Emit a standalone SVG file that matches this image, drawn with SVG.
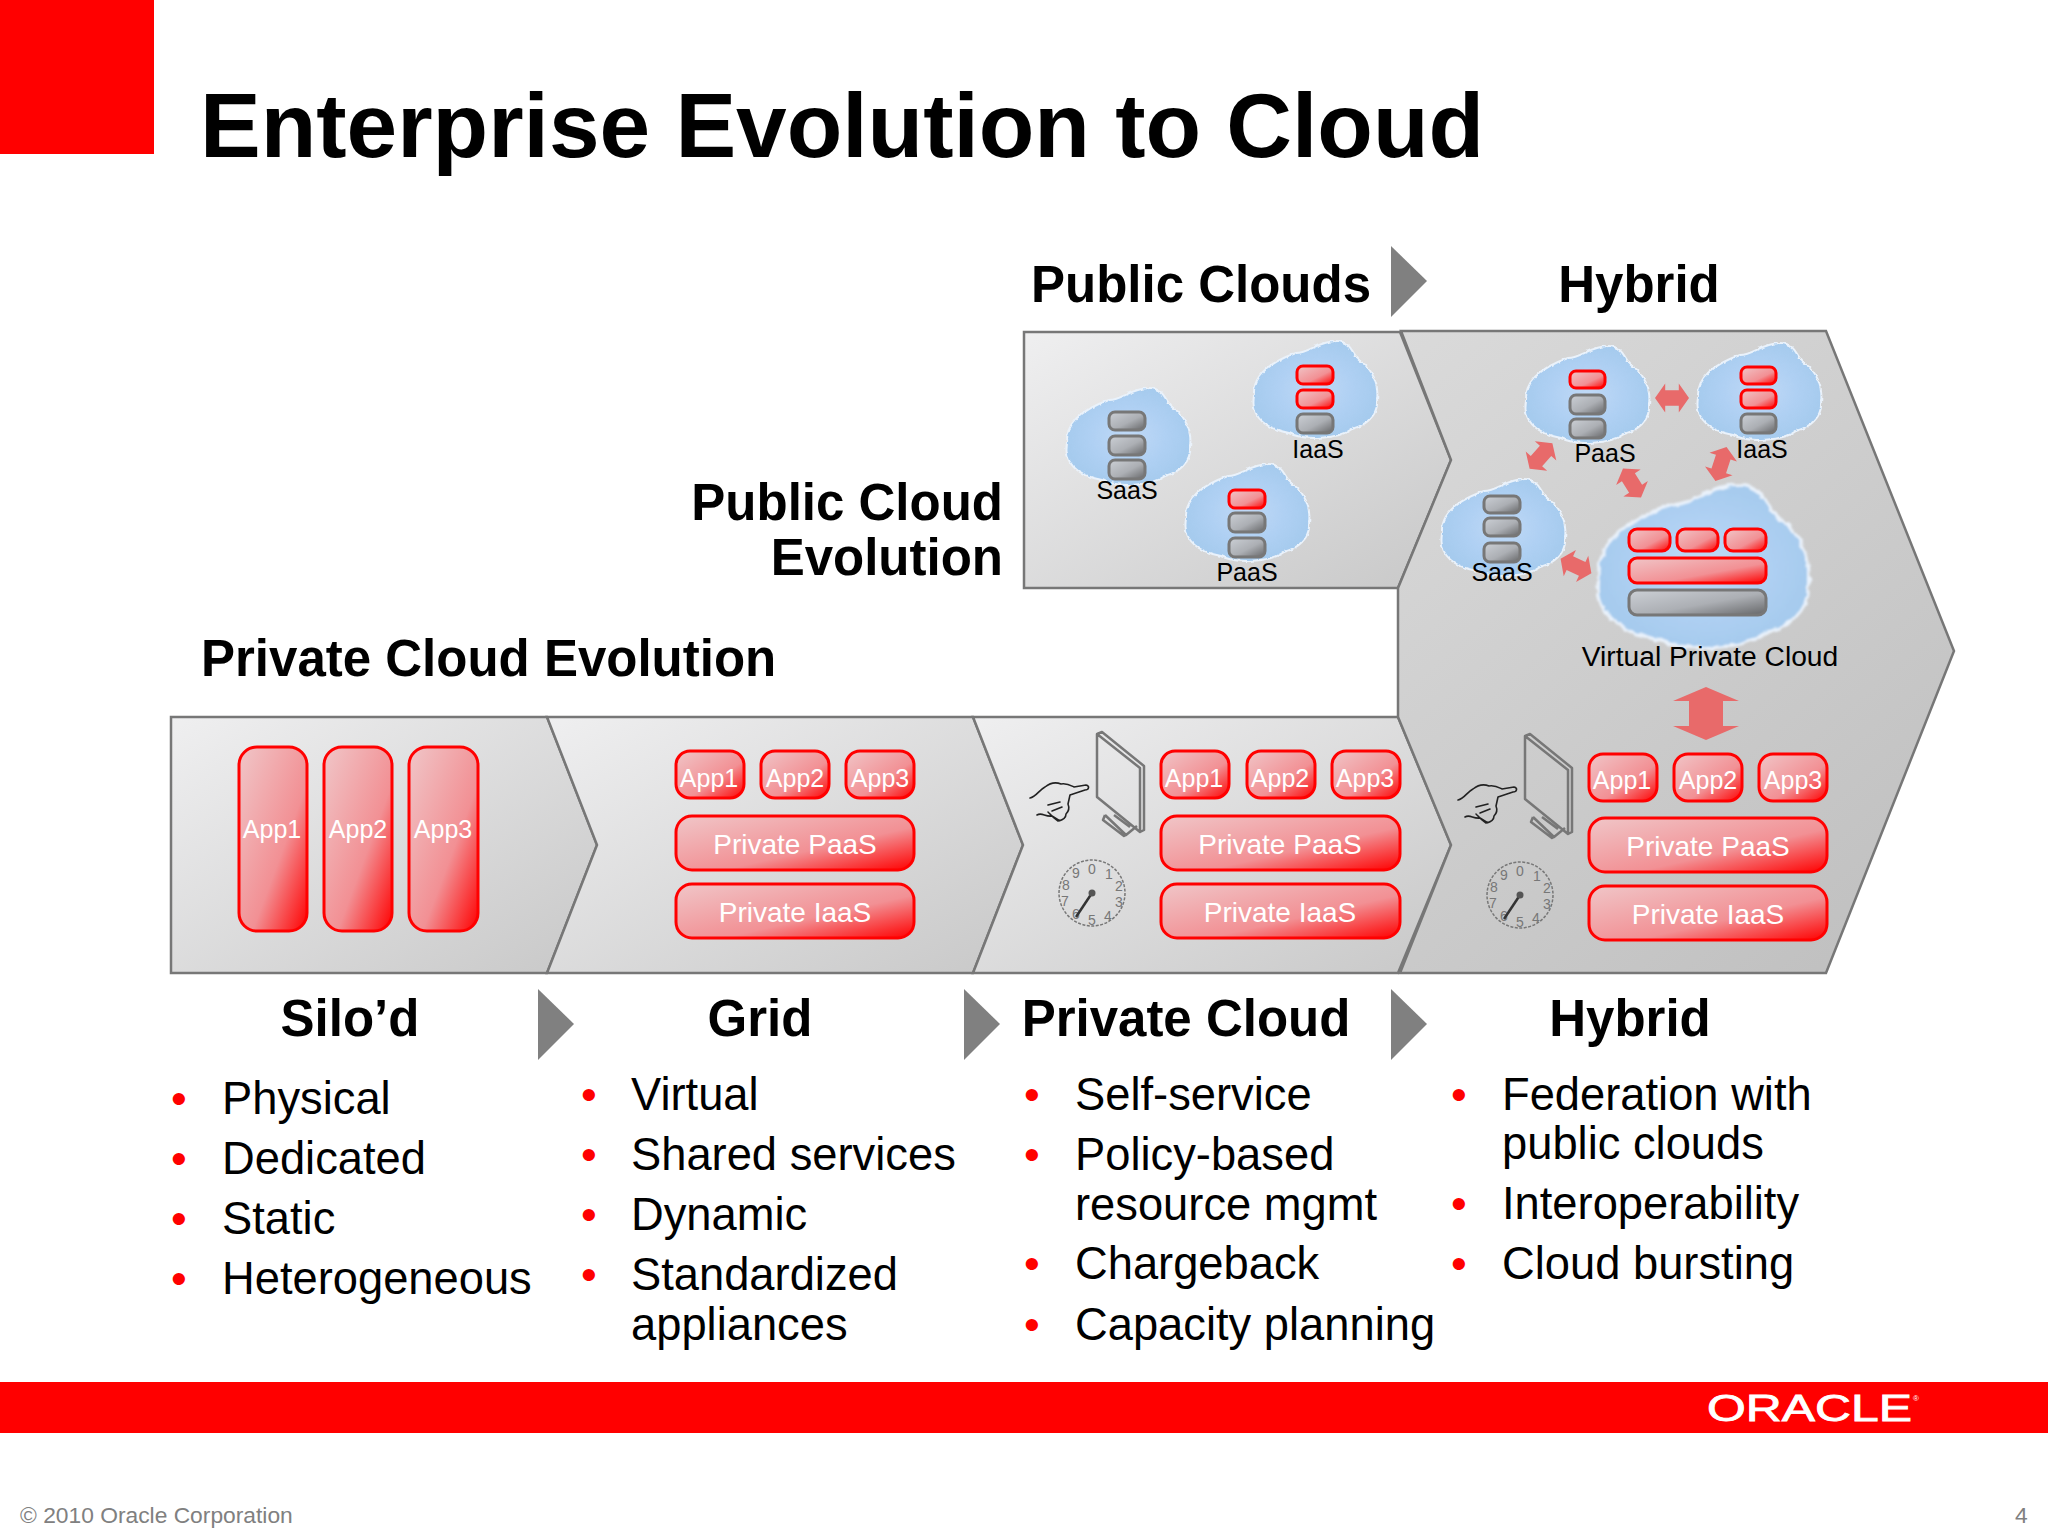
<svg xmlns="http://www.w3.org/2000/svg" width="2048" height="1536" viewBox="0 0 2048 1536">
<style>
text{font-family:"Liberation Sans",Arial,sans-serif;fill:#000}
.h{font-weight:bold;font-size:51px}
.b{font-size:45.3px}
.d{font-size:45px;fill:#f00}
.m{text-anchor:middle}
.w{fill:#fff;text-anchor:middle;font-size:25px}
.p{fill:#fff;text-anchor:middle;font-size:28px}
.l{text-anchor:middle;font-size:25px}
.band{stroke:#777;stroke-width:2.5}
.r{fill:url(#red);stroke:#f00;stroke-width:3}
.g{fill:url(#gray);stroke:#777;stroke-width:3}
.tri{fill:#808080}
.dbl{fill:#e86a6a}
.ink{fill:none;stroke:#222;stroke-width:1.6;stroke-linecap:round;stroke-linejoin:round}
.mon{fill:none;stroke:#777;stroke-width:2.5;stroke-linejoin:round}
.dg{font-size:14px;fill:#777;text-anchor:middle}
</style>
<defs>
<linearGradient id="band" x1="0" y1="0" x2="1" y2="1"><stop offset="0" stop-color="#efeff0"/><stop offset="1" stop-color="#c8c8c8"/></linearGradient>
<linearGradient id="band2" gradientUnits="userSpaceOnUse" x1="1400" y1="331" x2="1954" y2="973"><stop offset="0" stop-color="#dadada"/><stop offset="1" stop-color="#bebebe"/></linearGradient>
<linearGradient id="red" x1="0" y1="0" x2="1" y2="1"><stop offset="0" stop-color="#f0c6c8"/><stop offset=".6" stop-color="#f29094"/><stop offset="1" stop-color="#ff0000"/></linearGradient>
<linearGradient id="gray" x1="0" y1="0" x2="1" y2="1"><stop offset="0" stop-color="#ccd0d6"/><stop offset=".55" stop-color="#acafb4"/><stop offset="1" stop-color="#656668"/></linearGradient>
<radialGradient id="blue"><stop offset="0" stop-color="#c0d9f6"/><stop offset=".6" stop-color="#afd0f3"/><stop offset="1" stop-color="#a6cbee"/></radialGradient>
<filter id="rough" x="-15%" y="-15%" width="130%" height="130%"><feTurbulence type="fractalNoise" baseFrequency=".2" numOctaves="2" seed="4"/><feDisplacementMap in="SourceGraphic" scale="3.5" xChannelSelector="R" yChannelSelector="G"/><feGaussianBlur stdDeviation=".5"/></filter>
<path id="cl" d="M-60,5C-62,-20-35,-32-18,-38C-5,-38 5,-50 22,-50C38,-50 38,-36 46,-30C59,-22 65,-5 63,8C65,25 50,35 38,38C25,48-10,50-25,42C-45,38-64,28-60,5Z" fill="url(#blue)" stroke="#eaf2fb" stroke-width="2" filter="url(#rough)"/>
<path id="da" class="dbl" d="M-20,0L-8,-17L-8,-9L8,-9L8,-17L20,0L8,17L8,9L-8,9L-8,17Z"/>
<g id="tools">
<path class="ink" d="M1030,798C1036,797 1039,790 1045,787C1050,783 1056,782 1061,784C1067,783 1070,785 1074,787L1086,785C1090,786 1089,790 1085,790L1070,795L1068,804C1070,809 1068,812 1066,814C1066,818 1063,820 1058,821C1053,818 1050,814 1048,812M1048,805L1060,802M1062,807L1052,811M1037,815C1042,812 1045,817 1052,816L1060,821"/>
<path class="mon" d="M1097,734L1140,768L1140,832L1097,797ZM1097,734L1102,732L1144,766L1144,830L1140,832M1105,815L1126,835L1137,826M1105,815L1103,820L1124,836L1126,835M1114,815L1130,827"/>
<circle cx="1092" cy="893" r="33" fill="none" stroke="#777" stroke-width="1.5" stroke-dasharray="3 1.5"/>
<text class="dg" x="1092" y="874">0</text><text class="dg" x="1109" y="879">1</text><text class="dg" x="1119" y="891">2</text><text class="dg" x="1119" y="907">3</text><text class="dg" x="1108" y="921">4</text><text class="dg" x="1092" y="925">5</text><text class="dg" x="1076" y="919">6</text><text class="dg" x="1065" y="906">7</text><text class="dg" x="1066" y="890">8</text><text class="dg" x="1076" y="878">9</text>
<path d="M1092,893L1076,917" stroke="#333" stroke-width="2.5" fill="none"/><circle cx="1092" cy="893" r="3.5" fill="#555"/>
</g>
</defs>
<rect width="2048" height="1536" fill="#fff"/>
<rect id="corner" width="154" height="154" fill="#f00"/>
<text id="title" x="200" y="157" style="font-size:91px;font-weight:bold">Enterprise Evolution to Cloud</text>

<g id="band-public"><path class="band" fill="url(#band)" d="M1024,332L1400,332L1451,460L1398,588L1024,588Z"/></g>
<g id="band-silo"><path class="band" fill="url(#band)" d="M171,717L547,717L597,845L547,973L171,973Z"/></g>
<g id="band-grid"><path class="band" fill="url(#band)" d="M547,717L973,717L1023,845L973,973L547,973L597,845Z"/></g>
<g id="band-private"><path class="band" fill="url(#band)" d="M973,717L1398,717L1451,845L1398,973L973,973L1023,845Z"/></g>
<g id="band-hybrid"><path class="band" fill="url(#band2)" d="M1401,331L1826,331L1954,651L1826,973L1400,973L1451,845L1398,717L1398,588L1451,460Z"/></g>

<g id="tri-1"><polygon class="tri" points="1391,246 1427,281 1391,317"/></g>
<g id="tri-2"><polygon class="tri" points="538,989 574,1024 538,1060"/></g>
<g id="tri-3"><polygon class="tri" points="964,989 1000,1024 964,1060"/></g>
<g id="tri-4"><polygon class="tri" points="1391,989 1427,1024 1391,1060"/></g>

<text class="h" x="1031" y="302">Public Clouds</text>
<text class="h m" x="1639" y="302">Hybrid</text>
<text class="h" x="1003" y="520" style="text-anchor:end">Public Cloud</text>
<text class="h" x="1003" y="575" style="text-anchor:end">Evolution</text>
<text class="h" x="201" y="676">Private Cloud Evolution</text>
<text class="h m" x="350" y="1036">Silo’d</text>
<text class="h m" x="760" y="1036">Grid</text>
<text class="h m" x="1186" y="1036">Private Cloud</text>
<text class="h m" x="1630" y="1036">Hybrid</text>

<g id="cloud-pub-saas"><use href="#cl" x="1127" y="438"/>
<rect class="g" x="1109" y="412" width="36" height="18" rx="6"/><rect class="g" x="1109" y="436" width="36" height="19" rx="6"/><rect class="g" x="1109" y="460" width="36" height="19" rx="6"/>
<text class="l" x="1127" y="499">SaaS</text></g>
<g id="cloud-pub-iaas"><use href="#cl" x="1314" y="391"/>
<rect class="r" x="1297" y="366" width="36" height="18" rx="6"/><rect class="r" x="1297" y="390" width="36" height="18" rx="6"/><rect class="g" x="1297" y="414" width="36" height="19" rx="6"/>
<text class="l" x="1318" y="458">IaaS</text></g>
<g id="cloud-pub-paas"><use href="#cl" x="1246" y="514"/>
<rect class="r" x="1229" y="490" width="36" height="18" rx="6"/><rect class="g" x="1229" y="513" width="36" height="19" rx="6"/><rect class="g" x="1229" y="538" width="36" height="19" rx="6"/>
<text class="l" x="1247" y="581">PaaS</text></g>

<g id="cloud-hyb-paas"><use href="#cl" x="1586" y="396"/>
<rect class="r" x="1570" y="371" width="35" height="17" rx="6"/><rect class="g" x="1570" y="395" width="35" height="19" rx="6"/><rect class="g" x="1570" y="419" width="35" height="19" rx="6"/>
<text class="l" x="1605" y="462">PaaS</text></g>
<g id="cloud-hyb-iaas"><use href="#cl" x="1758" y="393"/>
<rect class="r" x="1741" y="367" width="35" height="17" rx="6"/><rect class="r" x="1741" y="390" width="35" height="18" rx="6"/><rect class="g" x="1741" y="414" width="35" height="19" rx="6"/>
<text class="l" x="1762" y="458">IaaS</text></g>
<g id="cloud-hyb-saas"><use href="#cl" x="1502" y="529"/>
<rect class="g" x="1484" y="496" width="36" height="17" rx="6"/><rect class="g" x="1484" y="518" width="36" height="18" rx="6"/><rect class="g" x="1484" y="543" width="36" height="19" rx="6"/>
<text class="l" x="1502" y="581">SaaS</text></g>
<g id="cloud-vpc"><use href="#cl" transform="translate(1701,569) scale(1.7,1.68)"/>
<rect class="r" x="1629" y="529" width="41" height="22" rx="8"/><rect class="r" x="1677" y="529" width="41" height="22" rx="8"/><rect class="r" x="1725" y="529" width="41" height="22" rx="8"/>
<rect class="r" x="1629" y="558" width="137" height="25" rx="8"/><rect class="g" x="1629" y="590" width="137" height="25" rx="8"/>
<text class="m" x="1710" y="666" style="font-size:28.2px">Virtual Private Cloud</text></g>

<g id="connectors">
<use href="#da" transform="translate(1672,398) scale(.85,.85)"/>
<use href="#da" transform="translate(1541,456) rotate(-48) scale(.85,.85)"/>
<use href="#da" transform="translate(1632,483) rotate(58) scale(.85,.85)"/>
<use href="#da" transform="translate(1721,464) rotate(-72) scale(.9,.85)"/>
<use href="#da" transform="translate(1576,566) rotate(25) scale(.85,.85)"/>
<polygon class="dbl" points="1706,687 1739,701 1723,701 1723,726 1739,726 1706,740 1673,726 1689,726 1689,701 1673,701"/>
</g>

<g id="silo"><rect class="r" x="239" y="747" width="68" height="184" rx="18"/><rect class="r" x="324" y="747" width="68" height="184" rx="18"/><rect class="r" x="409" y="747" width="69" height="184" rx="18"/>
<text class="w" x="272" y="838">App1</text><text class="w" x="358" y="838">App2</text><text class="w" x="443" y="838">App3</text></g>

<g id="grid"><rect class="r" x="676" y="751" width="68" height="47" rx="14"/><rect class="r" x="761" y="751" width="68" height="47" rx="14"/><rect class="r" x="846" y="751" width="68" height="47" rx="14"/>
<text class="w" x="709" y="787">App1</text><text class="w" x="795" y="787">App2</text><text class="w" x="880" y="787">App3</text>
<rect class="r" x="676" y="816" width="238" height="54" rx="16"/><text class="p" x="795" y="854">Private PaaS</text>
<rect class="r" x="676" y="884" width="238" height="54" rx="16"/><text class="p" x="795" y="922">Private IaaS</text></g>

<g id="private"><use href="#tools"/>
<rect class="r" x="1161" y="751" width="68" height="47" rx="14"/><rect class="r" x="1247" y="751" width="68" height="47" rx="14"/><rect class="r" x="1332" y="751" width="68" height="47" rx="14"/>
<text class="w" x="1194" y="787">App1</text><text class="w" x="1280" y="787">App2</text><text class="w" x="1365" y="787">App3</text>
<rect class="r" x="1161" y="816" width="239" height="54" rx="16"/><text class="p" x="1280" y="854">Private PaaS</text>
<rect class="r" x="1161" y="884" width="239" height="54" rx="16"/><text class="p" x="1280" y="922">Private IaaS</text></g>

<g id="hybrid"><use href="#tools" transform="translate(428,2)"/>
<rect class="r" x="1589" y="754" width="68" height="47" rx="14"/><rect class="r" x="1674" y="754" width="68" height="47" rx="14"/><rect class="r" x="1759" y="754" width="68" height="47" rx="14"/>
<text class="w" x="1622" y="789">App1</text><text class="w" x="1708" y="789">App2</text><text class="w" x="1793" y="789">App3</text>
<rect class="r" x="1589" y="818" width="238" height="54" rx="16"/><text class="p" x="1708" y="856">Private PaaS</text>
<rect class="r" x="1589" y="886" width="238" height="54" rx="16"/><text class="p" x="1708" y="924">Private IaaS</text></g>

<g id="list-silo">
<text class="d m" x="179" y="1114">•</text><text class="b" x="222" y="1114">Physical</text>
<text class="d m" x="179" y="1174">•</text><text class="b" x="222" y="1174">Dedicated</text>
<text class="d m" x="179" y="1234">•</text><text class="b" x="222" y="1234">Static</text>
<text class="d m" x="179" y="1294">•</text><text class="b" x="222" y="1294">Heterogeneous</text>
</g>
<g id="list-grid">
<text class="d m" x="589" y="1110">•</text><text class="b" x="631" y="1110">Virtual</text>
<text class="d m" x="589" y="1170">•</text><text class="b" x="631" y="1170">Shared services</text>
<text class="d m" x="589" y="1230">•</text><text class="b" x="631" y="1230">Dynamic</text>
<text class="d m" x="589" y="1290">•</text><text class="b" x="631" y="1290">Standardized</text>
<text class="b" x="631" y="1340">appliances</text>
</g>
<g id="list-private">
<text class="d m" x="1032" y="1110">•</text><text class="b" x="1075" y="1110">Self-service</text>
<text class="d m" x="1032" y="1170">•</text><text class="b" x="1075" y="1170">Policy-based</text>
<text class="b" x="1075" y="1220">resource mgmt</text>
<text class="d m" x="1032" y="1279">•</text><text class="b" x="1075" y="1279">Chargeback</text>
<text class="d m" x="1032" y="1340">•</text><text class="b" x="1075" y="1340">Capacity planning</text>
</g>
<g id="list-hybrid">
<text class="d m" x="1459" y="1110">•</text><text class="b" x="1502" y="1110">Federation with</text>
<text class="b" x="1502" y="1159">public clouds</text>
<text class="d m" x="1459" y="1219">•</text><text class="b" x="1502" y="1219">Interoperability</text>
<text class="d m" x="1459" y="1279">•</text><text class="b" x="1502" y="1279">Cloud bursting</text>
</g>

<g id="footer"><rect y="1382" width="2048" height="51" fill="#f00"/>
<text x="1707" y="1421" textLength="205" lengthAdjust="spacingAndGlyphs" style="fill:#fff;stroke:#fff;stroke-width:.8;font-size:36px">ORACLE</text>
<text x="1913" y="1401" style="fill:#fff;font-size:8px">®</text>
<text x="20" y="1523" style="fill:#808080;font-size:22.8px">© 2010 Oracle Corporation</text>
<text x="2015" y="1523" style="fill:#808080;font-size:22.8px">4</text></g>
</svg>
